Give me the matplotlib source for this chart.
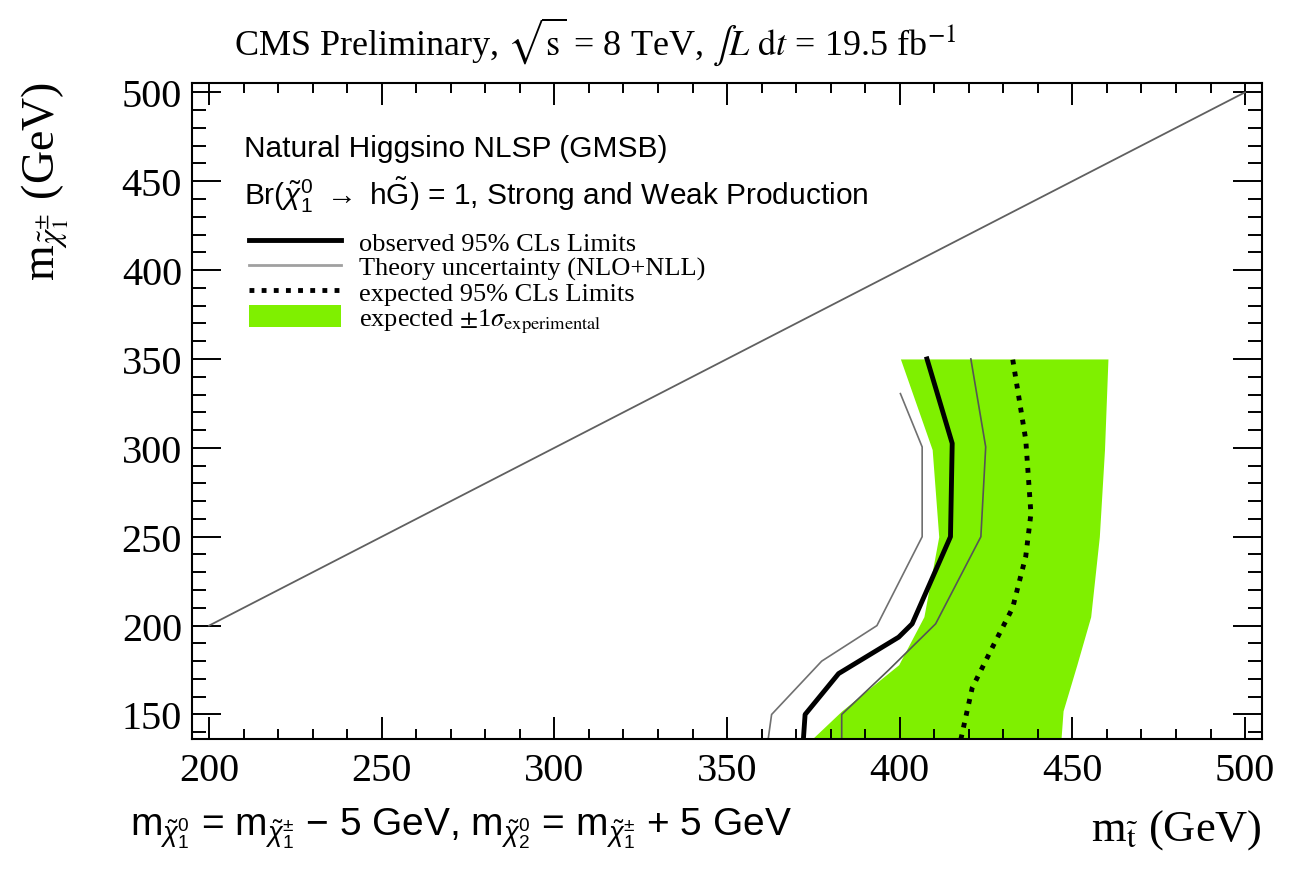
import matplotlib
matplotlib.use("Agg")
import matplotlib.pyplot as plt
from matplotlib.ticker import MultipleLocator
from matplotlib.lines import Line2D
from matplotlib.patches import Patch

# mathtext in sans for the plain labels; serif labels switch to stix per text
plt.rcParams["mathtext.fontset"] = "custom"
plt.rcParams["mathtext.rm"] = "Liberation Sans"
plt.rcParams["mathtext.it"] = "Liberation Sans:italic"
plt.rcParams["mathtext.bf"] = "Liberation Sans:bold"

SERIF = "Liberation Serif"
SANS = "Liberation Sans"

# stop mass (GeV) vs chargino mass (GeV)
obs_x = [372.1, 372.6, 382.3, 399.7, 403.6, 414.7, 415.2, 407.9]
obs_y = [136, 150, 173, 193.5, 201, 250, 302.5, 350]

theory_lo_x = [361.9, 362.9, 377.4, 393.4, 406.5, 406.5, 400.2]
theory_lo_y = [136, 150, 180, 200, 250, 300.5, 330.5]

theory_hi_x = [383.2, 383.2, 396.8, 410.4, 423.5, 424.9, 420.6]
theory_hi_y = [136, 150, 175, 201, 250, 300.5, 350]

exp_x = [417.7, 421.0, 426.9, 432.7, 436.5, 438.0, 436.5, 432.7]
exp_y = [136, 165, 188, 210, 239, 263, 304.5, 350]

band_y = [136, 152, 178, 205, 250, 299, 350]
band_lo = [374.5, 383.2, 399.7, 407.0, 411.3, 409.4, 400.2]
band_hi = [446.7, 447.3, 451.3, 455.3, 457.8, 459.3, 460.3]

diag_x = [200, 500]
diag_y = [200, 500]

xticks = [200, 250, 300, 350, 400, 450, 500]
yticks = [150, 200, 250, 300, 350, 400, 450, 500]

GREEN = "#7ff000"

fig = plt.figure(figsize=(12.96, 8.70), dpi=100)
ax = fig.add_axes([0.148, 0.149, 0.826, 0.755])

ax.fill_betweenx(band_y, band_lo, band_hi, color=GREEN, linewidth=0)
ax.plot(diag_x, diag_y, color="#606060", lw=1.3)
ax.plot(theory_lo_x, theory_lo_y, color="#707070", lw=1.2)
ax.plot(theory_hi_x, theory_hi_y, color="#555555", lw=1.2)
ax.plot(exp_x, exp_y, color="black", lw=3.5, linestyle=(0, (1, 1.5)),
        dash_capstyle="butt")
ax.plot(obs_x, obs_y, color="black", lw=3.5)

ax.set_xlim(195, 505)
ax.set_ylim(136, 505.5)
ax.set_xticks(xticks)
ax.set_yticks(yticks)
ax.xaxis.set_minor_locator(MultipleLocator(10))
ax.yaxis.set_minor_locator(MultipleLocator(10))
ax.tick_params(axis="both", which="both", direction="in", top=True, right=True,
               width=1.4, labelsize=29)
ax.tick_params(axis="x", which="major", length=16, pad=9)
ax.tick_params(axis="x", which="minor", length=7)
ax.tick_params(axis="y", which="major", length=21, pad=7)
ax.tick_params(axis="y", which="minor", length=10)
for lab in ax.get_xticklabels() + ax.get_yticklabels():
    lab.set_family(SERIF)
for s in ax.spines.values():
    s.set_linewidth(1.5)

fig.text(0.459, 0.952,
         r"CMS Preliminary, $\sqrt{\mathrm{s}}$ = 8 TeV, $\int L\ \mathrm{d}t$ = 19.5 fb$^{\mathrm{-1}}$",
         family=SERIF, math_fontfamily="stix", fontsize=26, ha="center", va="center")

ax.text(-0.137, 1.003, r"m$_{\tilde{\chi}^{\pm}_{1}}$ (GeV)", transform=ax.transAxes,
        rotation=90, ha="center", va="top", family=SERIF, math_fontfamily="stix",
        fontsize=33)
ax.text(1.0, -0.137, r"m$_{\tilde{\mathrm{t}}}$ (GeV)", transform=ax.transAxes,
        ha="right", va="center", family=SERIF, math_fontfamily="stix", fontsize=32)
ax.text(-0.058, -0.145,
        r"m$_{\tilde{\chi}^{0}_{1}}$ = m$_{\tilde{\chi}^{\pm}_{1}}$ $-$ 5 GeV, "
        r"m$_{\tilde{\chi}^{0}_{2}}$ = m$_{\tilde{\chi}^{\pm}_{1}}$ + 5 GeV",
        transform=ax.transAxes, ha="left", va="baseline", family=SANS, fontsize=28)

ax.text(0.0486, 0.901, "Natural Higgsino NLSP (GMSB)", transform=ax.transAxes,
        ha="left", va="center", family=SANS, fontsize=21.5)
ax.text(0.0486, 0.830,
        r"Br($\tilde{\chi}^{0}_{1}$ $\rightarrow$ h$\tilde{\mathrm{G}}$) = 1, Strong and Weak Production",
        transform=ax.transAxes, ha="left", va="center", family=SANS, fontsize=21.5)

handles = [
    Line2D([], [], color="black", lw=3.5),
    Line2D([], [], color="#a0a0a0", lw=2.0),
    Line2D([], [], color="black", lw=3.5, linestyle=(0, (1, 1.5)), dash_capstyle="butt"),
    Patch(facecolor=GREEN, edgecolor="none"),
]
labels = [
    "observed 95% CLs Limits",
    "Theory uncertainty (NLO+NLL)",
    "expected 95% CLs Limits",
    r"expected $\pm$1$\sigma_{\mathrm{experimental}}$",
]
leg = ax.legend(handles, labels, loc="upper left", bbox_to_anchor=(0.053, 0.776),
                frameon=False, borderpad=0, borderaxespad=0, handlelength=3.5,
                handleheight=0.9, handletextpad=0.7, labelspacing=0.0,
                prop={"family": SERIF, "size": 19})
for t in leg.get_texts():
    t.set_math_fontfamily("stix")

fig.savefig("out.png", dpi=100)
